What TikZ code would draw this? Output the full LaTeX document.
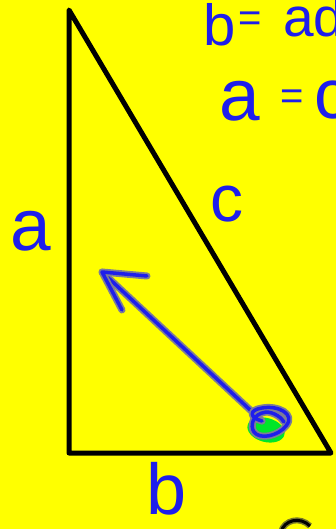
\documentclass[tikz,border=0pt]{standalone}
\usepackage{fontspec}
\setmainfont{Liberation Sans}
\definecolor{bgyellow}{RGB}{255,255,0}
\definecolor{inkblue}{RGB}{30,30,235}
\definecolor{halo}{RGB}{125,125,150}
\definecolor{blobgreen}{RGB}{0,230,40}
\definecolor{olive}{RGB}{120,120,40}
\tikzset{
  hand/.style={draw=inkblue, line width=3.5pt, line cap=round, line join=round,
    preaction={draw=halo, line width=7pt, line cap=round, line join=round}},
  label/.style={inner sep=0pt, text=inkblue},
  tri/.style={draw=black, line width=5pt, line join=round, line cap=round}
}
\begin{document}
\begin{tikzpicture}[x=1pt,y=-1pt]
\fill[bgyellow] (0,0) rectangle (336,529);
\useasboundingbox (0,0) rectangle (336,529);
\clip (0,0) rectangle (336,529);
% triangle
\coordinate (A) at (69,10);
\coordinate (B) at (69,453);
\coordinate (C) at (331,453);
\draw[tri] (A) -- (B) -- (C) -- cycle;
% green blob
\fill[blobgreen, rotate around={-15:(266,430)}] (266,430) ellipse [x radius=19pt, y radius=12pt];
% arrow
\coordinate (tail) at (262,421);
\coordinate (tip) at (102,272);
\draw[hand] (tail) -- (tip);
\draw[hand] (147,276) -- (tip) -- (122,310);
% loop round the blob
\draw[hand] (262,421) .. controls (250,418) and (248,410) .. (262,408)
  .. controls (278,405) and (296,414) .. (286,426)
  .. controls (278,436) and (260,440) .. (254,432)
  .. controls (250,426) and (252,414) .. (266,412)
  .. controls (274,412) and (282,418) .. (284,422);
% labels
\node[label, font=\fontsize{73}{73}\selectfont] (la) at (31,231) {a};
\node[label, font=\fontsize{66}{66}\selectfont] (lc) at (227,204) {c};
\node[label, font=\fontsize{72}{72}\selectfont] (lb) at (167,489) {b};
% top right equations
\node[label, font=\fontsize{58}{58}\selectfont, anchor=base] (eb) at (220,46) {b};
\node[label, font=\fontsize{40}{40}\selectfont] (eq1) at (250,22) {=};
\node[label, font=\fontsize{55}{55}\selectfont, anchor=base west] (ead) at (283,37) {ad};
\node[label, font=\fontsize{73}{73}\selectfont] (ea) at (240,101) {a};
\node[label, font=\fontsize{40}{40}\selectfont] (eq2) at (292,100) {=};
\node[label, font=\fontsize{70}{70}\selectfont, anchor=west] (ec) at (314,100) {c};
% partial dark stroke at bottom edge
\draw[draw=black, line width=3pt, preaction={draw=olive, line width=6pt}] (281,532) .. controls (284,520) and (300,516) .. (310,526);
\end{tikzpicture}
\end{document}
